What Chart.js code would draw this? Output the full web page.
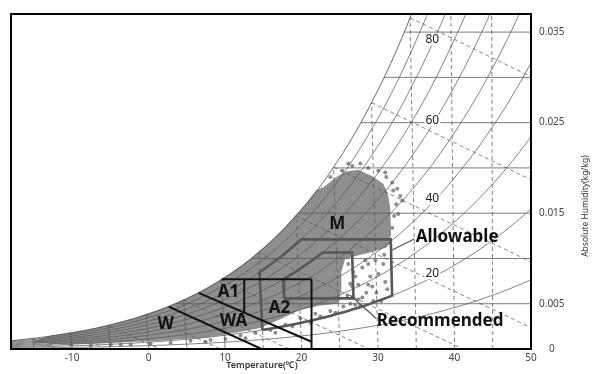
<!DOCTYPE html>
<html>
<head>
<meta charset="utf-8">
<script src="https://cdn.jsdelivr.net/npm/chart.js@4.4.0/dist/chart.umd.min.js"></script>
<style>
  html, body { margin: 0; padding: 0; background: #fff; }
  #wrap { width: 592px; height: 374px; }
</style>
</head>
<body>
<div id="wrap"><canvas id="chart" width="592" height="374"></canvas></div>
<script>
// ---- axes -------------------------------------------------------------
const tempTicks = [-10, 0, 10, 20, 30, 40, 50];
const humidityTicks = [0, 0.005, 0.015, 0.025, 0.035];
const humidityLines = [0.005, 0.01, 0.015, 0.02, 0.025, 0.03, 0.035];

// ---- psychrometric grid ------------------------------------------------
const rhCurves = [10, 20, 30, 40, 50, 60, 70, 80, 90, 100];
const rhLabelled = [20, 40, 60, 80];
const dryBulbSolid = [-15, -10, -5, 0, 5, 10];
const dryBulbDashed = [15, 20, 25, 30, 35, 40, 45];
const wetBulbTemps = [-15, -10, -5, 0, 5, 10, 15, 20, 25, 30, 35];
// saturation vapour pressure over water (kPa)
const satTemp = [-20, -15, -10, -5, 0, 5, 10, 15, 20, 25, 30, 35, 40, 45, 50];
const satPressure = [0.1254, 0.1914, 0.2863, 0.4215, 0.6112, 0.8725, 1.2282, 1.7058,
                     2.3393, 3.1699, 4.2470, 5.6290, 7.3849, 9.5898, 12.352];

// ---- ASHRAE envelopes --------------------------------------------------
const recTemp = [18, 27];
const recDew = [5.5, 15];
const recRhMax = 60;
const allowTemp = [15, 32];
const allowRh = [20, 80];
const allowDewMax = 17;

// ---- economiser zone boundaries (chart x, humidity ratio) ---------------
const zoneTopX = [9.55, 21.3],   zoneTopW = [0.0077, 0.0077];
const zoneSplitX = [12.5, 12.5], zoneSplitW = [0.0077, 0.00405];
const zoneEdgeX = [21.3, 21.3],  zoneEdgeW = [0.0077, 0];
const zoneUpperX = [6.54, 21.3], zoneUpperW = [0.0062, 0.0008];
const zoneLowerX = [2.62, 14.77], zoneLowerW = [0.00469, 0];
const zoneNames = ['W', 'WA', 'A1', 'A2', 'M'];
const zoneNameX = [2.22, 11.1, 10.44, 17.1, 24.67];
const zoneNameW = [0.00273, 0.00305, 0.00626, 0.00455, 0.01376];

// leader lines for the envelope captions
const allowLeaderX = [31.72, 34.73], allowLeaderW = [0.01087, 0.01215];
const recLeaderX = [26.37, 29.77],   recLeaderW = [0.00594, 0.00337];

// ---- hourly weather observations --------------------------------------
// outline of the dense part (the upper-left edge follows saturation)
const cloudEdgeX = [-15.0, -11.5, -6.3, -1.0, 1.6, 4.2, 6.8, 9.4, 12.0, 14.6, 17.2, 19.8, 22.5, 24.8,
                    25.1, 25.1, 25.6, 27.3, 29.2, 31.1, 31.6, 31.5, 31.2, 30.6, 29.2, 27.4, 25.7, 24.4, 23.1];
const cloudEdgeW = [0.0008, 0.0006, 0.0007, 0.0009, 0.001, 0.0012, 0.0013, 0.0016, 0.002, 0.0024, 0.0034,
                    0.0044, 0.0049, 0.0051, 0.0066, 0.0085, 0.01, 0.0104, 0.0108, 0.0113, 0.0126, 0.0155,
                    0.0171, 0.0182, 0.019, 0.0197, 0.0195, 0.0188, 0.0179];
// scattered hours around the fringe
const dotX = [31.85, 32.51, 32.9, 32.38, 32.11, 31.85, 30.29, 29.63, 30.68, 30.03, 30.94, 29.24, 28.46,
              27.42, 26.37, 27.94, 27.02, 28.72, 26.37, 25.98, 27.68, 25.46, 27.68, 28.72, 30.03, 31.07,
              26.63, 25.33, 23.76, 23.76, 21.8, 19.84, 17.89, 15.93, 13.97, 12.01, 10.05, 8.09, 5.48,
              2.87, 0.26, -2.35, -4.96, -7.57, -10.18, -12.79, 21.15, 18.8,
              26.1, 26.76, 27.42, 28.33, 28.98, 29.77, 30.42, 31.2, 30.81, 31.46, 29.37, 27.94, 27.02,
              26.63, 28.72, 26.11, 30.94, 31.98, 33.16, 32.64, 22.45, 24.41, 16.58, 12.66, 7.44, -3.66];
const dotW = [0.0184, 0.0177, 0.0169, 0.016, 0.0147, 0.0134, 0.0119, 0.0098, 0.0094, 0.0083, 0.0074,
              0.0069, 0.0062, 0.0055, 0.005, 0.009, 0.008, 0.0094, 0.0072, 0.0059, 0.0048, 0.0047,
              0.0205, 0.02, 0.0197, 0.019, 0.0202, 0.0197, 0.019, 0.0042, 0.0039, 0.0034, 0.0027,
              0.0021, 0.0018, 0.0015, 0.0011, 0.001, 0.0009, 0.0007, 0.0006, 0.0005, 0.0005, 0.0004,
              0.0005, 0.0006, 0.0029, 0.0025,
              0.0094, 0.0085, 0.0071, 0.0098, 0.008, 0.0062, 0.0053, 0.0066, 0.0104, 0.0117, 0.0053,
              0.0057, 0.0049, 0.0069, 0.0071, 0.0205, 0.0195, 0.0175, 0.0164, 0.0149, 0.0036, 0.004,
              0.0018, 0.0012, 0.0008, 0.0005];

// ---- psychrometrics -----------------------------------------------------
const P_ATM = 101.325;
const X_MIN = -18, X_MAX = 50, W_MAX = 0.037;

function pws(T) {
  let i = Math.floor((T - satTemp[0]) / 5);
  i = Math.min(Math.max(i, 0), satTemp.length - 2);
  const f = (T - satTemp[i]) / (satTemp[i + 1] - satTemp[i]);
  return Math.exp(Math.log(satPressure[i]) * (1 - f) + Math.log(satPressure[i + 1]) * f);
}
function wFromRh(T, rh) { const p = rh / 100 * pws(T); return 0.622 * p / (P_ATM - p); }
function wetBulbW(T, tw) {
  const ws = wFromRh(tw, 100);
  return ((2501 - 2.326 * tw) * ws - 1.006 * (T - tw)) / (2501 + 1.86 * T - 4.186 * tw);
}
// oblique (enthalpy based) horizontal coordinate of the chart
function chartX(T, w) { return T + w * (1.86 * T - 87.5) / 1.006; }
function pt(T, w) { return { x: chartX(T, w), y: w }; }
function solve(f, lo, hi) {
  let flo = f(lo);
  for (let k = 0; k < 60; k++) {
    const mid = (lo + hi) / 2, fm = f(mid);
    if ((fm > 0) === (flo > 0)) { lo = mid; flo = fm; } else { hi = mid; }
  }
  return (lo + hi) / 2;
}
const zip = (xs, ws) => xs.map((x, i) => ({ x, y: ws[i] }));

// ---- datasets -----------------------------------------------------------
const GRID = '#5a5a5a';
const datasets = [];
function addLine(points, color, width, dash, order) {
  datasets.push({ type: 'line', data: points, borderColor: color, borderWidth: width,
                  borderDash: dash || [], pointRadius: 0, fill: false, tension: 0, order });
}

// relative humidity curves
rhCurves.forEach(rh => {
  const pts = [];
  for (let T = X_MIN - 1; T <= X_MAX + 1; T += 0.5) {
    const w = wFromRh(T, rh);
    pts.push(pt(T, w));
    if (w > W_MAX + 0.001) break;
  }
  addLine(pts, GRID, rh === 100 ? 0.9 : 0.75, [], 50);
});

// humidity-ratio lines, from saturation to the right edge
humidityLines.forEach(w => {
  const td = solve(T => wFromRh(T, 100) - w, -40, 60);
  addLine([pt(td, w), { x: X_MAX + 1, y: w }], GRID, 0.8, [], 50);
});

// dry-bulb lines
dryBulbSolid.concat(dryBulbDashed).forEach(T => {
  const top = Math.min(wFromRh(T, 100), W_MAX + 0.001);
  const dashed = dryBulbDashed.includes(T);
  addLine([pt(T, 0), pt(T, top)], GRID, 0.75, dashed ? [4, 3] : [], 50);
});

// wet-bulb lines
wetBulbTemps.forEach(tw => {
  const pts = [];
  let prevT = tw, prevW = wetBulbW(tw, tw);
  pts.push(pt(tw, prevW));
  for (let T = tw + 0.5; T < tw + 60; T += 0.5) {
    const w = wetBulbW(T, tw);
    if (w <= 0) {
      const Tz = prevT + (T - prevT) * prevW / (prevW - w);
      pts.push(pt(Tz, 0));
      break;
    }
    pts.push(pt(T, w));
    if (chartX(T, w) > X_MAX + 1) break;
    prevT = T; prevW = w;
  }
  if (pts[0].y > W_MAX + 0.002) return;
  addLine(pts, GRID, 0.75, [4, 3], 50);
});

// allowable envelope
(function () {
  const pts = [];
  const wTop = wFromRh(allowDewMax, 100);
  for (let T = allowTemp[0]; T <= allowTemp[1] + 1e-9; T += 0.5) pts.push(pt(T, wFromRh(T, allowRh[0])));
  pts.push(pt(allowTemp[1], wTop));
  const tc = solve(T => wFromRh(T, allowRh[1]) - wTop, 0, 40);
  pts.push(pt(tc, wTop));
  for (let T = tc; T >= allowTemp[0]; T -= 0.5) pts.push(pt(T, wFromRh(T, allowRh[1])));
  pts.push(pt(allowTemp[0], wFromRh(allowTemp[0], allowRh[1])));
  pts.push(pt(allowTemp[0], wFromRh(allowTemp[0], allowRh[0])));
  addLine(pts, '#575757', 2.6, [], 20);
})();

// recommended envelope
(function () {
  const pts = [];
  const wLow = wFromRh(recDew[0], 100), wHigh = wFromRh(recDew[1], 100);
  pts.push(pt(recTemp[0], wLow));
  pts.push(pt(recTemp[1], wLow));
  pts.push(pt(recTemp[1], wHigh));
  const tc = solve(T => wFromRh(T, recRhMax) - wHigh, 0, 40);
  pts.push(pt(tc, wHigh));
  for (let T = tc; T >= recTemp[0]; T -= 0.5) pts.push(pt(T, wFromRh(T, recRhMax)));
  pts.push(pt(recTemp[0], wFromRh(recTemp[0], recRhMax)));
  pts.push(pt(recTemp[0], wLow));
  addLine(pts, '#575757', 2.6, [], 20);
})();

// leaders
addLine(zip(allowLeaderX, allowLeaderW), '#555', 1.2, [], 15);
addLine(zip(recLeaderX, recLeaderW), '#555', 1.2, [], 15);

// economiser zone boundaries
[[zoneTopX, zoneTopW], [zoneSplitX, zoneSplitW], [zoneEdgeX, zoneEdgeW],
 [zoneUpperX, zoneUpperW], [zoneLowerX, zoneLowerW]].forEach(([xs, ws]) => {
  addLine(zip(xs, ws), '#111', 2, [], 10);
});

// observation cloud: traced outline closed along the saturation line
(function () {
  const pts = zip(cloudEdgeX, cloudEdgeW);
  for (let T = 22.8; T >= -13; T -= 0.5) pts.push(pt(T, wFromRh(T, 100)));
  pts.push({ x: cloudEdgeX[0], y: cloudEdgeW[0] });
  datasets.push({ type: 'line', data: pts, borderColor: '#8e8e8e', borderWidth: 1.5,
                  backgroundColor: '#8e8e8e', fill: 'shape', pointRadius: 0, tension: 0, order: 100 });
})();
datasets.push({ type: 'scatter', data: zip(dotX, dotW), backgroundColor: '#8e8e8e',
                borderWidth: 0, pointRadius: 2, order: 99 });

// ---- text and frame ---------------------------------------------------
const FONT = "'Noto Sans', sans-serif";
const RH_LABEL_X = 37.1;
const overlay = {
  id: 'overlay',
  afterDatasetsDraw(chart) {
    const { ctx, scales: { x, y } } = chart;
    ctx.save();
    // RH values on their curves
    ctx.font = '12px ' + FONT;
    ctx.textAlign = 'center';
    ctx.textBaseline = 'middle';
    rhLabelled.forEach(rh => {
      const T = solve(t => chartX(t, wFromRh(t, rh)) - RH_LABEL_X, 20, 50);
      const px = x.getPixelForValue(RH_LABEL_X), py = y.getPixelForValue(wFromRh(T, rh)) - 4;
      const tw = ctx.measureText(String(rh)).width;
      ctx.fillStyle = '#fff';
      ctx.fillRect(px - tw / 2 - 1, py - 6, tw + 2, 12);
      ctx.fillStyle = '#222';
      ctx.fillText(String(rh), px, py);
    });
    // zone names
    ctx.font = 'bold 17px ' + FONT;
    ctx.fillStyle = '#111';
    zoneNames.forEach((n, i) => {
      ctx.fillText(n, x.getPixelForValue(zoneNameX[i]), y.getPixelForValue(zoneNameW[i]));
    });
    ctx.fillText('Allowable', x.getPixelForValue(40.34), y.getPixelForValue(0.01237));
    ctx.fillText('Recommended', x.getPixelForValue(38.12), y.getPixelForValue(0.00305));
    ctx.restore();
  },
  afterDraw(chart) {
    const { ctx, chartArea: a } = chart;
    ctx.save();
    ctx.strokeStyle = '#000';
    ctx.lineWidth = 2;
    ctx.strokeRect(a.left, a.top, a.right - a.left, a.bottom - a.top);
    ctx.fillStyle = '#333';
    ctx.font = '600 9px ' + FONT;
    ctx.textAlign = 'center';
    ctx.textBaseline = 'middle';
    ctx.fillText('Temperature(℃)', 262, 365);
    ctx.translate(586, 206);
    ctx.rotate(-Math.PI / 2);
    ctx.font = '8.5px ' + FONT;
    ctx.fillText('Absolute Humidity(kg/kg)', 0, 0);
    ctx.restore();
  }
};

Chart.defaults.font.family = FONT;
new Chart(document.getElementById('chart'), {
  type: 'line',
  data: { datasets },
  options: {
    responsive: false,
    animation: false,
    devicePixelRatio: 1,
    layout: { padding: { left: 11, top: 4, right: 0, bottom: 0 } },
    plugins: { legend: { display: false }, tooltip: { enabled: false } },
    scales: {
      x: {
        type: 'linear', min: X_MIN, max: X_MAX,
        afterBuildTicks: s => { s.ticks = tempTicks.map(v => ({ value: v })); },
        afterFit: s => { s.height = 25; },
        grid: { display: false, drawTicks: false },
        border: { display: false },
        ticks: { autoSkip: false, maxRotation: 0, padding: 3, color: '#444', font: { size: 10 } }
      },
      y: {
        type: 'linear', position: 'right', min: 0, max: W_MAX,
        afterBuildTicks: s => { s.ticks = humidityTicks.map(v => ({ value: v })); },
        afterFit: s => { s.width = 61; },
        grid: { display: false, drawTicks: false },
        border: { display: false },
        ticks: { autoSkip: false, crossAlign: 'center', padding: 8, color: '#444', font: { size: 10 },
                 callback: v => (v === 0 ? '0' : v.toFixed(3)) }
      }
    }
  },
  plugins: [overlay]
});
</script>
</body>
</html>
